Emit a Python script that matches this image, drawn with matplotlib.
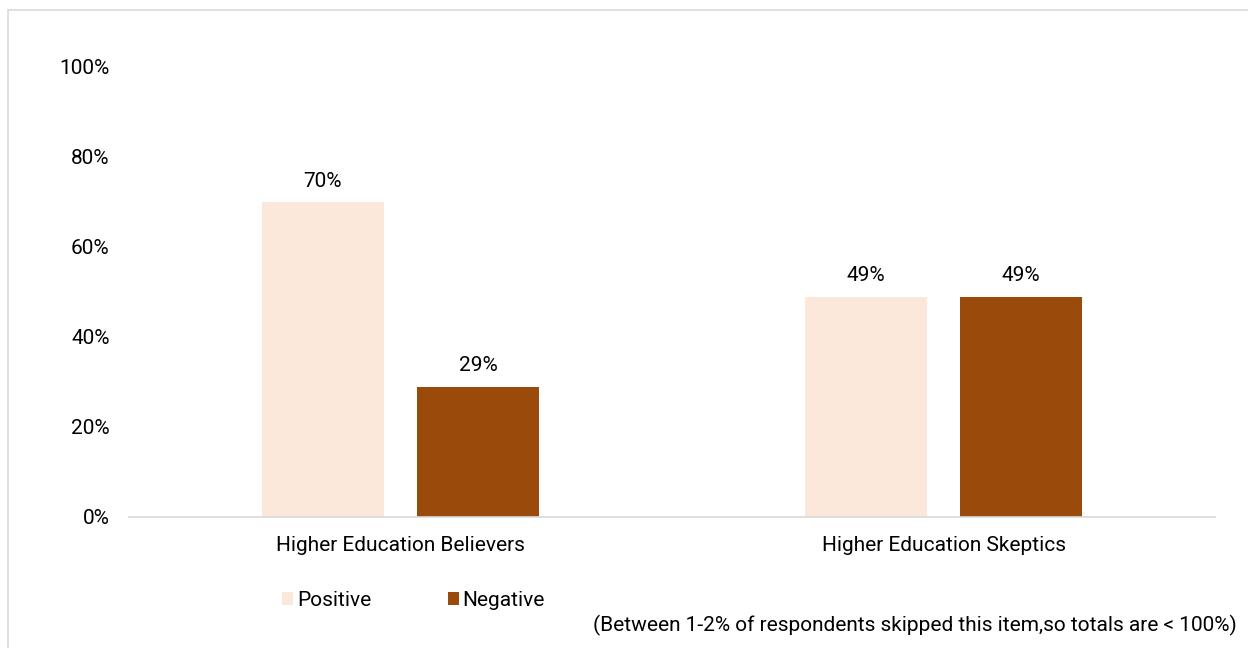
import matplotlib.pyplot as plt
import numpy as np
from matplotlib.patches import Rectangle

plt.rcParams['font.family'] = ['Roboto', 'DejaVu Sans']

grupos = ['Higher Education Believers', 'Higher Education Skeptics']
positivo = [70, 49]
negativo = [29, 49]
series = ['Positive', 'Negative']
colores = ['#FCE8DA', '#9A4A0A']
yticks = [0, 20, 40, 60, 80, 100]

fig = plt.figure(figsize=(12.48, 6.48), dpi=100)

# marco gris alrededor del grafico
fig.patches.append(Rectangle((8 / 1248, -0.1), 1.2, 1 - 10 / 648 + 0.1,
                             transform=fig.transFigure, fill=False,
                             edgecolor='#D9D9D9', linewidth=1.2))

ax = fig.add_axes([129 / 1248, 1 - 517 / 648, 1086 / 1248, 450 / 648])

x = np.arange(len(grupos))
ancho = 0.225
desp = 0.143

b1 = ax.bar(x - desp, positivo, ancho, color=colores[0], label=series[0])
b2 = ax.bar(x + desp, negativo, ancho, color=colores[1], label=series[1])

for barras, valores in [(b1, positivo), (b2, negativo)]:
    for b, v in zip(barras, valores):
        ax.annotate(f"{v}%", (b.get_x() + b.get_width() / 2, v),
                    xytext=(0, 8), textcoords='offset points',
                    ha='center', va='bottom', fontsize=15, color='#000000')

ax.set_xlim(-0.5, 1.5)
ax.set_ylim(0, 100)
ax.set_yticks(yticks)
ax.set_yticklabels([f"{t}%" for t in yticks], fontsize=15)
ax.set_xticks(x)
ax.set_xticklabels(grupos, fontsize=15)
ax.tick_params(axis='both', length=0)
ax.tick_params(axis='y', pad=14)
ax.tick_params(axis='x', pad=13.5)

for s in ['top', 'right', 'left']:
    ax.spines[s].set_visible(False)
ax.spines['bottom'].set_color('#D9D9D9')
ax.spines['bottom'].set_linewidth(1.2)

leg = fig.legend(loc='center left', bbox_to_anchor=(282 / 1248, 1 - 600.5 / 648),
                 ncol=2, frameon=False, fontsize=15, handlelength=0.53,
                 handleheight=0.53, handletextpad=0.2, columnspacing=3.65,
                 borderpad=0, borderaxespad=0)

fig.text(1237 / 1248, 1 - 625 / 648,
         "(Between 1-2% of respondents skipped this item,so totals are < 100%)",
         ha='right', va='center', fontsize=15)

fig.savefig('out.png', dpi=100)
